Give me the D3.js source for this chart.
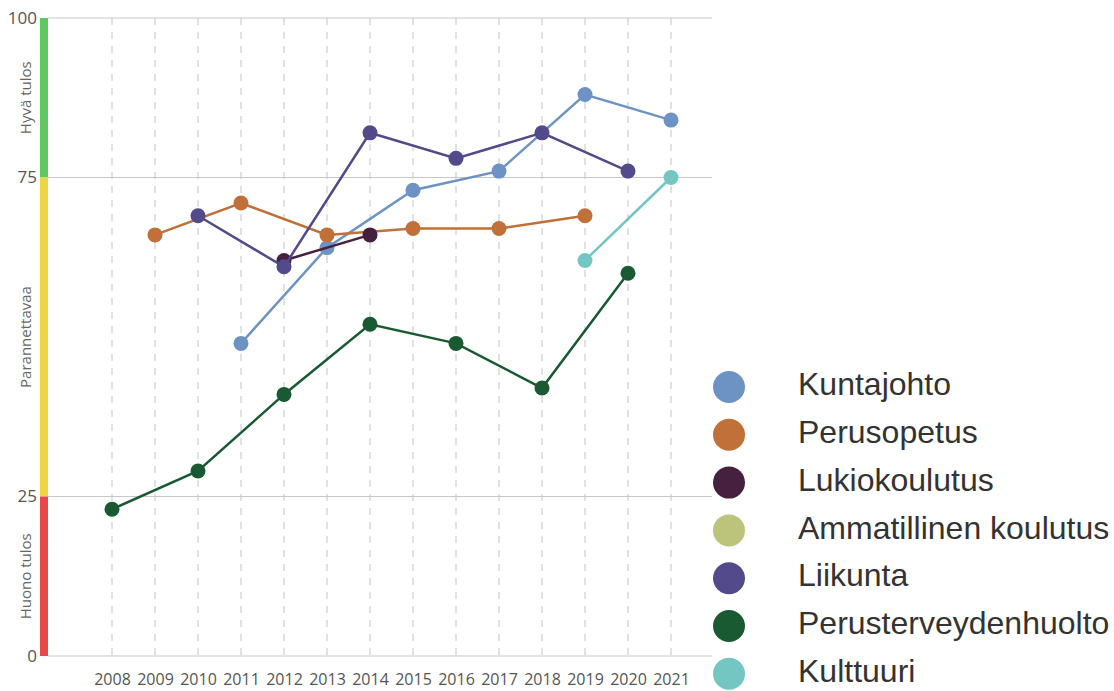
<!DOCTYPE html>
<html>
<head>
<meta charset="utf-8">
<script src="https://cdn.jsdelivr.net/npm/d3@7"></script>
<style>
  body { margin: 0; background: #fff; }
  svg { display: block; }
</style>
</head>
<body>
<svg></svg>
<script>
const width = 1114;
const height = 691;

const years = [2008, 2009, 2010, 2011, 2012, 2013, 2014, 2015, 2016, 2017, 2018, 2019, 2020, 2021];
const yTicks = [0, 25, 75, 100];

const seriesNames = ['Kuntajohto', 'Perusopetus', 'Lukiokoulutus', 'Ammatillinen koulutus', 'Liikunta', 'Perusterveydenhuolto', 'Kulttuuri'];
const seriesColors = ['#6d93c4', '#c07038', '#45203f', '#bcc47c', '#524a8a', '#1a5a32', '#74c6c2'];

const kuntajohtoYears = [2011, 2013, 2015, 2017, 2019, 2021];
const kuntajohtoValues = [49, 64, 73, 76, 88, 84];
const perusopetusYears = [2009, 2011, 2013, 2015, 2017, 2019];
const perusopetusValues = [66, 71, 66, 67, 67, 69];
const lukioYears = [2012, 2014];
const lukioValues = [62, 66];
const ammatillinenYears = [];
const ammatillinenValues = [];
const liikuntaYears = [2010, 2012, 2014, 2016, 2018, 2020];
const liikuntaValues = [69, 61, 82, 78, 82, 76];
const terveysYears = [2008, 2010, 2012, 2014, 2016, 2018, 2020];
const terveysValues = [23, 29, 41, 52, 49, 42, 60];
const kulttuuriYears = [2019, 2021];
const kulttuuriValues = [62, 75];

const bands = [
  { from: 75, to: 100, color: '#5ec95e', label: 'Hyvä tulos' },
  { from: 25, to: 75, color: '#f0d443', label: 'Parannettavaa' },
  { from: 0, to: 25, color: '#e84848', label: 'Huono tulos' }
];

const plotLeft = 48, plotRight = 712, plotTop = 18, plotBottom = 656;

window.onload = () => {
  const svg = d3.select('svg')
      .attr('width', width)
      .attr('height', height)
      .style('font-family', '"Open Sans", sans-serif');

  const x = d3.scalePoint()
      .domain(years)
      .range([112, 671]);

  const y = d3.scaleLinear()
      .domain([0, 100])
      .range([plotBottom, plotTop]);

  // vertical dashed grid
  svg.append('g')
    .selectAll('line')
    .data(years)
    .join('line')
      .attr('x1', d => x(d))
      .attr('x2', d => x(d))
      .attr('y1', plotTop)
      .attr('y2', plotBottom + 4)
      .attr('stroke', '#c4c4c4')
      .attr('stroke-width', 1)
      .attr('stroke-dasharray', '7,7');

  // horizontal grid
  svg.append('g')
    .selectAll('line')
    .data(yTicks)
    .join('line')
      .attr('x1', plotLeft)
      .attr('x2', plotRight)
      .attr('y1', d => y(d))
      .attr('y2', d => y(d))
      .attr('stroke', '#c8c8c8')
      .attr('stroke-width', 1.2);

  // coloured bands at the left
  svg.append('g')
    .selectAll('rect')
    .data(bands)
    .join('rect')
      .attr('x', 40)
      .attr('width', 8)
      .attr('y', d => y(d.to))
      .attr('height', d => y(d.from) - y(d.to))
      .attr('fill', d => d.color);

  svg.append('g')
    .selectAll('text')
    .data(bands)
    .join('text')
      .attr('transform', d => `translate(31,${(y(d.from) + y(d.to)) / 2}) rotate(-90)`)
      .attr('text-anchor', 'middle')
      .attr('font-size', 15)
      .attr('fill', '#666')
      .text(d => d.label);

  // y tick labels
  svg.append('g')
    .selectAll('text')
    .data(yTicks)
    .join('text')
      .attr('x', 37)
      .attr('y', d => y(d))
      .attr('dy', '0.35em')
      .attr('text-anchor', 'end')
      .attr('font-size', 17)
      .attr('fill', '#555')
      .text(d => d);

  // x axis labels
  const xAxis = d3.axisBottom(x).tickSize(0).tickPadding(0);
  const gx = svg.append('g')
      .attr('transform', `translate(0,${plotBottom + 18})`)
      .call(xAxis);
  gx.select('.domain').remove();
  gx.selectAll('text')
      .attr('font-size', 16)
      .attr('font-family', '"Open Sans", sans-serif')
      .attr('fill', '#555')
      .attr('dy', '0.71em');

  const seriesYears = [kuntajohtoYears, perusopetusYears, lukioYears, ammatillinenYears, liikuntaYears, terveysYears, kulttuuriYears];
  const seriesValues = [kuntajohtoValues, perusopetusValues, lukioValues, ammatillinenValues, liikuntaValues, terveysValues, kulttuuriValues];

  const line = d3.line()
      .x(d => x(d[0]))
      .y(d => y(d[1]));

  seriesNames.forEach((name, i) => {
    const pts = seriesYears[i].map((yr, j) => [yr, seriesValues[i][j]]);
    const g = svg.append('g');
    g.append('path')
        .datum(pts)
        .attr('d', line)
        .attr('fill', 'none')
        .attr('stroke', seriesColors[i])
        .attr('stroke-width', 2.5);
    g.selectAll('circle')
      .data(pts)
      .join('circle')
        .attr('cx', d => x(d[0]))
        .attr('cy', d => y(d[1]))
        .attr('r', 7.5)
        .attr('fill', seriesColors[i]);
  });

  // legend
  const legend = svg.append('g')
      .attr('transform', 'translate(729,384)');

  const item = legend.selectAll('g')
    .data(seriesNames)
    .join('g')
      .attr('transform', (d, i) => `translate(0,${i * 47.8})`);

  item.append('circle')
      .attr('cy', 3)
      .attr('r', 16)
      .attr('fill', (d, i) => seriesColors[i]);

  item.append('text')
      .attr('x', 69)
      .attr('dy', '0.35em')
      .attr('font-family', '"Liberation Sans", Arial, sans-serif')
      .attr('font-size', 32)
      .attr('fill', '#333')
      .text(d => d);
};
</script>
</body>
</html>
